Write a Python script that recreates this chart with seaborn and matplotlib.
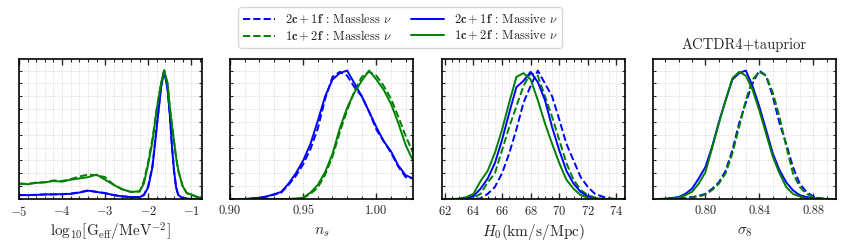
import numpy as np
import pandas as pd
import matplotlib
matplotlib.use("Agg")
import matplotlib.pyplot as plt
import seaborn as sns
from matplotlib.lines import Line2D
from matplotlib.ticker import MultipleLocator, NullFormatter

# --- data (normalised 1D posteriors) ---
# panel 1: log10 Geff
geff_x = [-5.0, -4.8, -4.6, -4.4, -4.2, -4.0, -3.8, -3.6, -3.4, -3.2, -3.0, -2.8, -2.6, -2.4,
          -2.2, -2.1, -2.0, -1.9, -1.8, -1.7, -1.63, -1.55, -1.5, -1.45, -1.4, -1.35, -1.3,
          -1.2, -1.1, -1.0, -0.9, -0.75]
geff_2c1f_massless = [0.032, 0.030, 0.033, 0.036, 0.035, 0.038, 0.042, 0.052, 0.066, 0.056, 0.046,
                      0.031, 0.021, 0.016, 0.014, 0.032, 0.10, 0.26, 0.57, 0.88, 1.0, 0.86, 0.66,
                      0.42, 0.22, 0.09, 0.03, 0.008, 0.003, 0.0, 0.0, 0.0]
geff_1c2f_massless = [0.12, 0.118, 0.128, 0.13, 0.145, 0.14, 0.155, 0.175, 0.19, 0.185, 0.17, 0.11,
                      0.075, 0.055, 0.058, 0.14, 0.29, 0.47, 0.71, 0.90, 1.0, 0.90, 0.72, 0.58,
                      0.45, 0.32, 0.22, 0.10, 0.045, 0.035, 0.02, 0.005]
geff_2c1f_massive = [0.03, 0.03, 0.032, 0.035, 0.037, 0.037, 0.04, 0.05, 0.065, 0.055, 0.045, 0.03,
                     0.02, 0.015, 0.015, 0.03, 0.09, 0.25, 0.56, 0.87, 1.0, 0.86, 0.67, 0.42,
                     0.22, 0.09, 0.03, 0.008, 0.003, 0.0, 0.0, 0.0]
geff_1c2f_massive = [0.12, 0.115, 0.125, 0.13, 0.14, 0.135, 0.15, 0.16, 0.17, 0.19, 0.15, 0.11,
                     0.075, 0.055, 0.06, 0.12, 0.27, 0.45, 0.70, 0.90, 1.0, 0.90, 0.72, 0.58,
                     0.45, 0.32, 0.22, 0.10, 0.045, 0.035, 0.02, 0.005]

# panel 2: n_s
ns_x = [0.90, 0.91, 0.92, 0.925, 0.93, 0.935, 0.94, 0.945, 0.95, 0.955, 0.96, 0.965, 0.97,
        0.975, 0.98, 0.985, 0.99, 0.995, 1.00, 1.005, 1.01, 1.015, 1.02, 1.025]
ns_2c1f_massless = [0.0, 0.0, 0.008, 0.018, 0.033, 0.05, 0.11, 0.18, 0.27, 0.39, 0.55, 0.78, 0.95,
                    0.99, 0.96, 0.87, 0.80, 0.68, 0.54, 0.45, 0.36, 0.25, 0.17, 0.16]
ns_1c2f_massless = [0.0, 0.0, 0.0, 0.0, 0.0, 0.0, 0.0, 0.002, 0.008, 0.04, 0.09, 0.19, 0.33, 0.52,
                    0.69, 0.84, 0.95, 0.99, 0.96, 0.88, 0.78, 0.64, 0.49, 0.36]
ns_2c1f_massive = [0.0, 0.0, 0.01, 0.02, 0.037, 0.055, 0.12, 0.20, 0.30, 0.43, 0.61, 0.80, 0.93,
                   0.98, 1.0, 0.90, 0.80, 0.68, 0.56, 0.45, 0.37, 0.26, 0.185, 0.16]
ns_1c2f_massive = [0.0, 0.0, 0.0, 0.0, 0.0, 0.0, 0.0, 0.003, 0.01, 0.05, 0.11, 0.21, 0.35, 0.55,
                   0.71, 0.83, 0.92, 1.0, 0.93, 0.85, 0.74, 0.59, 0.42, 0.30]

# panel 3: H0
h0_x = [62.0, 62.5, 63.0, 63.5, 64.0, 64.5, 65.0, 65.5, 66.0, 66.5, 67.0, 67.5, 68.0, 68.5,
        69.0, 69.5, 70.0, 70.5, 71.0, 71.5, 72.0, 72.5, 73.0, 73.5, 74.0, 74.5]
h0_2c1f_massless = [0.0, 0.0, 0.0, 0.0, 0.0, 0.005, 0.04, 0.094, 0.20, 0.355, 0.54, 0.75, 0.88,
                    1.0, 0.90, 0.80, 0.62, 0.43, 0.30, 0.17, 0.094, 0.04, 0.02, 0.005, 0.0, 0.0]
h0_1c2f_massless = [0.0, 0.0, 0.0, 0.0, 0.01, 0.04, 0.13, 0.20, 0.38, 0.56, 0.72, 0.88, 0.98,
                    0.96, 0.80, 0.64, 0.46, 0.28, 0.15, 0.07, 0.03, 0.01, 0.003, 0.0, 0.0, 0.0]
h0_2c1f_massive = [0.0, 0.0, 0.0, 0.005, 0.023, 0.08, 0.16, 0.28, 0.46, 0.67, 0.87, 0.92, 0.99,
                   0.91, 0.77, 0.56, 0.38, 0.22, 0.12, 0.055, 0.02, 0.005, 0.0, 0.0, 0.0, 0.0]
h0_1c2f_massive = [0.0, 0.0, 0.003, 0.015, 0.04, 0.14, 0.22, 0.36, 0.54, 0.75, 0.95, 0.98, 0.93,
                   0.77, 0.59, 0.43, 0.28, 0.15, 0.08, 0.03, 0.01, 0.003, 0.0, 0.0, 0.0, 0.0]

# panel 4: sigma8
s8_x = [0.765, 0.77, 0.775, 0.78, 0.785, 0.79, 0.795, 0.80, 0.805, 0.81, 0.815, 0.82, 0.825,
        0.83, 0.835, 0.84, 0.845, 0.85, 0.855, 0.86, 0.865, 0.87, 0.875, 0.88, 0.885, 0.89, 0.895]
s8_2c1f_massless = [0.0, 0.0, 0.002, 0.005, 0.01, 0.015, 0.025, 0.04, 0.08, 0.13, 0.22, 0.38, 0.59,
                    0.75, 0.90, 1.0, 0.96, 0.80, 0.59, 0.43, 0.25, 0.12, 0.055, 0.02, 0.005, 0.001, 0.0]
s8_1c2f_massless = [0.0, 0.0, 0.001, 0.003, 0.007, 0.012, 0.02, 0.035, 0.07, 0.12, 0.20, 0.355, 0.56,
                    0.77, 0.93, 0.99, 0.96, 0.83, 0.64, 0.41, 0.20, 0.094, 0.04, 0.015, 0.004, 0.0, 0.0]
s8_2c1f_massive = [0.0, 0.002, 0.008, 0.015, 0.04, 0.08, 0.16, 0.25, 0.41, 0.60, 0.77, 0.93, 0.98,
                   1.0, 0.88, 0.72, 0.54, 0.355, 0.225, 0.13, 0.068, 0.03, 0.016, 0.005, 0.002, 0.0, 0.0]
s8_1c2f_massive = [0.0, 0.001, 0.005, 0.012, 0.03, 0.055, 0.12, 0.21, 0.40, 0.59, 0.77, 0.94, 0.99,
                   0.96, 0.85, 0.69, 0.51, 0.33, 0.20, 0.094, 0.04, 0.02, 0.005, 0.001, 0.0, 0.0, 0.0]

labels = [r'$\mathbf{2c}+\mathbf{1f}$ : Massless $\nu$', r'$\mathbf{1c}+\mathbf{2f}$ : Massless $\nu$',
          r'$\mathbf{2c}+\mathbf{1f}$ : Massive $\nu$', r'$\mathbf{1c}+\mathbf{2f}$ : Massive $\nu$']
colors = ['blue', 'green', 'blue', 'green']
styles = ['--', '--', '-', '-']

sns.set_style("ticks")
plt.rcParams['font.family'] = 'serif'
plt.rcParams['font.serif'] = ['cmr10', 'DejaVu Serif']
plt.rcParams['mathtext.fontset'] = 'cm'
plt.rcParams['axes.formatter.use_mathtext'] = True
plt.rcParams['axes.unicode_minus'] = True

panels = [
    (geff_x, [geff_2c1f_massless, geff_1c2f_massless, geff_2c1f_massive, geff_1c2f_massive],
     r'$\mathrm{log}_{10}[\mathrm{G}_{\rm eff}/\mathrm{MeV}^{-2}]$', (-5.0, -0.75), 1.0, 0.2),
    (ns_x, [ns_2c1f_massless, ns_1c2f_massless, ns_2c1f_massive, ns_1c2f_massive],
     r'$n_s$', (0.90, 1.025), 0.05, 0.01),
    (h0_x, [h0_2c1f_massless, h0_1c2f_massless, h0_2c1f_massive, h0_1c2f_massive],
     r'$H_0(\mathrm{km/s/Mpc})$', (61.8, 74.6), 2.0, 0.5),
    (s8_x, [s8_2c1f_massless, s8_1c2f_massless, s8_2c1f_massive, s8_1c2f_massive],
     r'$\sigma_8$', (0.761, 0.897), 0.04, 0.01),
]

fig = plt.figure(figsize=(8.47, 2.52), dpi=100)
lefts = [19, 230, 442, 653]
for i, (xs, curves, xlabel, xlim, major, minor) in enumerate(panels):
    ax = fig.add_axes([lefts[i] / 847, 53 / 252, 183 / 847, 140 / 252])
    for ys, c, ls in zip(curves, colors, styles):
        df = pd.DataFrame({'x': xs, 'y': ys})
        sns.lineplot(data=df, x='x', y='y', color=c, linestyle=ls, linewidth=1.4, ax=ax)
    ax.set_xlim(*xlim)
    ax.set_ylim(0, 1.09)
    ax.xaxis.set_major_locator(MultipleLocator(major))
    ax.xaxis.set_minor_locator(MultipleLocator(minor))
    ax.yaxis.set_major_locator(MultipleLocator(0.1))
    ax.yaxis.set_major_formatter(NullFormatter())
    ax.tick_params(axis='x', which='major', direction='in', top=True, length=4, width=1,
                   labelsize=9, pad=4)
    ax.tick_params(axis='x', which='minor', direction='in', top=True, length=2, width=0.8)
    ax.tick_params(axis='y', which='major', direction='in', right=True, length=2, width=0.8)
    ax.grid(True, which='both', linestyle=':', color='#cccccc', linewidth=0.6)
    for sp in ax.spines.values():
        sp.set_linewidth(1.2)
        sp.set_color('black')
    ax.set_xlabel(xlabel, fontsize=11)
    ax.xaxis.label.set_va('center')
    ax.xaxis.set_label_coords(0.5, -0.236)
    ax.set_ylabel('')
    if major in (0.05, 0.04):
        ax.xaxis.set_major_formatter(plt.FuncFormatter(lambda v, p: f'{v:.2f}'))
    if i == 3:
        ax.set_title('ACTDR4+tauprior', fontsize=10.5, pad=7)

handles = [Line2D([], [], color=c, linestyle=ls, linewidth=1.4) for c, ls in zip(colors, styles)]
fig.legend(handles, labels, ncol=2, loc='center', bbox_to_anchor=(400 / 847, 224.5 / 252),
           fontsize=9, frameon=True, fancybox=True, edgecolor='#cccccc', handlelength=2.6,
           columnspacing=1.5, borderpad=0.35, labelspacing=0.25, handletextpad=0.8)

fig.savefig('out.png', dpi=100)
